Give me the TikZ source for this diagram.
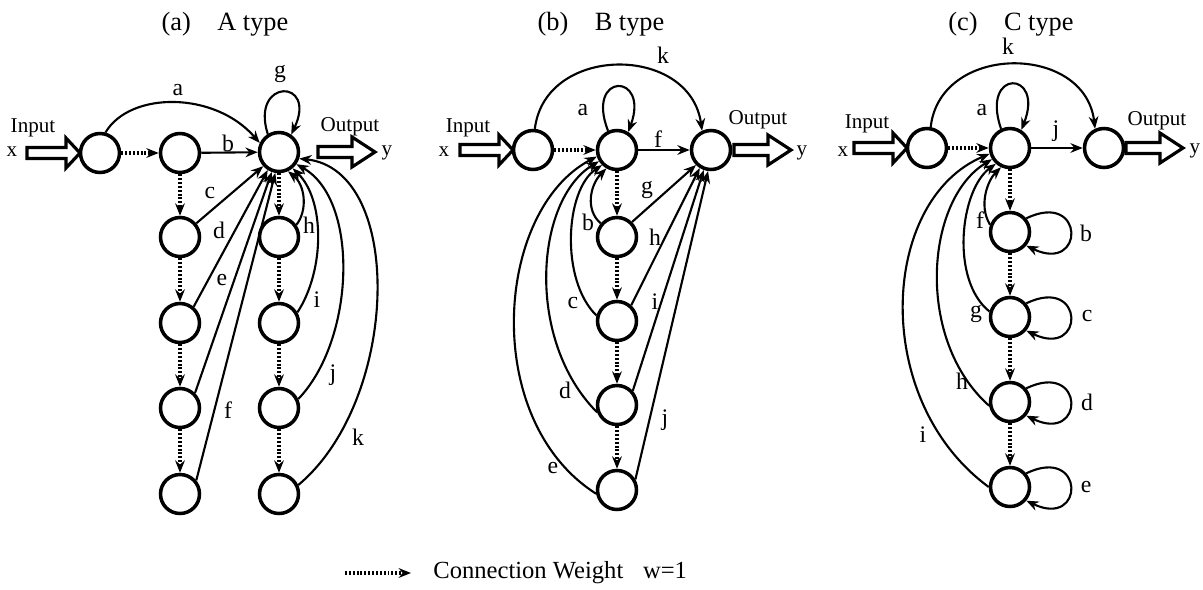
\documentclass[tikz,border=0pt]{standalone}
\usepackage{fontspec}
\setmainfont{Liberation Serif}
\usetikzlibrary{arrows.meta}
\begin{document}
\begin{tikzpicture}[x=0.02cm,y=-0.02cm,
  nd/.style={circle,draw,line width=2pt,minimum size=0.78cm,inner sep=0pt},
  edge/.style={line width=1.2pt,-{Stealth[length=7pt,width=5.5pt]}},
  dotarr/.style={line width=2pt,dash pattern=on 1.1pt off 1.1pt,-{Stealth[length=7pt,width=5.5pt]}},
  lbl/.style={inner sep=0pt,font=\fontsize{13.5}{16}\selectfont},
  io/.style={inner sep=0pt,font=\fontsize{12}{14}\selectfont},
  ttl/.style={inner sep=0pt,font=\fontsize{15}{18}\selectfont},
  fat/.style={line width=1.8pt,line join=miter},
  inarr/.pic={\draw[fat] (0,-5.5) -- (39,-5.5) -- (39,-15) -- (53,0) -- (39,15) -- (39,5.5) -- (0,5.5) -- cycle;},
  outarr/.pic={\draw[fat] (0,-5.5) -- (34,-5.5) -- (34,-15) -- (57,0) -- (34,15) -- (34,5.5) -- (0,5.5) -- cycle;}]
\useasboundingbox (0,0) rectangle (1203,589);

% ================= (a) A type =================
\node[ttl] (ta) at (225,24) {(a)\quad A type};
\node[nd] (ai) at (100,153) {};
\node[nd] (a2) at (180,153) {};
\node[nd] (ah) at (279,152) {};
\foreach \i/\y in {1/237,2/323,3/408,4/494}{
  \node[nd] (al\i) at (180,\y) {};
  \node[nd] (ar\i) at (279,\y) {};
}
\pic at (27,153) {inarr};
\pic at (318,152) {outarr};
\node[io] (ainp) at (33,128) {Input};
\node[io] (ax) at (12,152) {x};
\node[io] (aout) at (350,127) {Output};
\node[io] (ay) at (387,153) {y};

\draw[dotarr] (ai) -- (a2);
\draw[dotarr] (a2) -- (al1);
\draw[dotarr] (al1) -- (al2);
\draw[dotarr] (al2) -- (al3);
\draw[dotarr] (al3) -- (al4);
\draw[dotarr] (ah) -- (ar1);
\draw[dotarr] (ar1) -- (ar2);
\draw[dotarr] (ar2) -- (ar3);
\draw[dotarr] (ar3) -- (ar4);

\draw[edge] (ai.75) .. controls (130,91) and (215,91) .. (ah.155);
\draw[edge] (ah.122) .. controls (250,78) and (318,78) .. (ah.55);
\draw[edge] (a2) -- (ah);
\draw[edge] (al1.40) -- (ah.222);
\draw[edge] (al2.50) -- (ah.238);
\draw[edge] (al3.45) -- (ah.250);
\draw[edge] (al4.40) -- (ah.260);
\draw[edge] (ar1.35) .. controls (308,210) and (305,185) .. (ah.-65);
\draw[edge] (ar2.30) .. controls (325,270) and (325,200) .. (ah.-50);
\draw[edge] (ar3.25) .. controls (355,340) and (360,200) .. (ah.-35);
\draw[edge] (ar4.25) .. controls (400,400) and (405,170) .. (ah.-18);

\node[lbl] (la) at (178,90) {a};
\node[lbl] (lg) at (280,74) {g};
\node[lbl] (lb) at (228,143) {b};
\node[lbl] (lc) at (210,193) {c};
\node[lbl] (ld) at (219,230) {d};
\node[lbl] (le) at (222,280) {e};
\node[lbl] (lf) at (228,410) {f};
\node[lbl] (lh) at (309,225) {h};
\node[lbl] (li) at (317,300) {i};
\node[lbl] (lj) at (333,375) {j};
\node[lbl] (lk) at (358,437) {k};

% ================= (b) B type =================
\node[ttl] (tb) at (601,24) {(b)\quad B type};
\node[nd] (bi) at (533,150) {};
\node[nd] (bh) at (617,150) {};
\node[nd] (bo) at (711,150) {};
\node[nd] (b1) at (617,237) {};
\node[nd] (b2) at (617,321) {};
\node[nd] (b3) at (617,405) {};
\node[nd] (b4) at (617,490) {};
\pic at (460,150) {inarr};
\pic at (734,150) {outarr};
\node[io] (binp) at (468,128) {Input};
\node[io] (bx) at (444,152) {x};
\node[io] (bout) at (758,120) {Output};
\node[io] (by) at (802,153) {y};

\draw[dotarr] (bi) -- (bh);
\draw[dotarr] (bh) -- (b1);
\draw[dotarr] (b1) -- (b2);
\draw[dotarr] (b2) -- (b3);
\draw[dotarr] (b3) -- (b4);

\draw[edge] (bi.85) .. controls (545,44) and (690,44) .. (bo.115);
\draw[edge] (bh.115) .. controls (585,72) and (650,72) .. (bh.58);
\draw[edge] (bh) -- (bo);
\draw[edge] (b1.45) -- (bo.225);
\draw[edge] (b2.48) -- (bo.238);
\draw[edge] (b3.42) -- (bo.250);
\draw[edge] (b4.30) -- (bo.262);
\draw[edge] (b1.140) .. controls (585,210) and (590,185) .. (bh.240);
\draw[edge] (b2.165) .. controls (560,280) and (565,190) .. (bh.225);
\draw[edge] (b3.200) .. controls (525,340) and (535,200) .. (bh.212);
\draw[edge] (b4.190) .. controls (480,420) and (495,210) .. (bh.198);

\node[lbl] (mk) at (663,55) {k};
\node[lbl] (ma) at (583,110) {a};
\node[lbl] (mf) at (658,139) {f};
\node[lbl] (mg) at (647,190) {g};
\node[lbl] (mh) at (655,237) {h};
\node[lbl] (mi) at (655,302) {i};
\node[lbl] (mj) at (665,420) {j};
\node[lbl] (mb) at (588,222) {b};
\node[lbl] (mc) at (573,303) {c};
\node[lbl] (md) at (565,390) {d};
\node[lbl] (me) at (553,468) {e};

% ================= (c) C type =================
\node[ttl] (tc) at (1011,24) {(c)\quad C type};
\node[nd] (ci) at (927,148) {};
\node[nd] (ch) at (1010,148) {};
\node[nd] (co) at (1104,148) {};
\node[nd] (c1) at (1010,232) {};
\node[nd] (c2) at (1010,317) {};
\node[nd] (c3) at (1010,402) {};
\node[nd] (c4) at (1010,487) {};
\pic at (854,148) {inarr};
\pic at (1126,148) {outarr};
\node[io] (cinp) at (867,124) {Input};
\node[io] (cx) at (843,152) {x};
\node[io] (cout) at (1157,121) {Output};
\node[io] (cy) at (1195,151) {y};

\draw[dotarr] (ci) -- (ch);
\draw[dotarr] (ch) -- (c1);
\draw[dotarr] (c1) -- (c2);
\draw[dotarr] (c2) -- (c3);
\draw[dotarr] (c3) -- (c4);

\draw[edge] (ci.80) .. controls (940,43) and (1085,43) .. (co.115);
\draw[edge] (ch.115) .. controls (980,68) and (1045,70) .. (ch.58);
\draw[edge] (ch) -- (co);
\foreach \n in {c1,c2,c3,c4}
  \draw[edge] (\n.40) .. controls +(59,-28.5) and +(59,28.5) .. (\n.-40);
\draw[edge] (c1.160) .. controls (978,205) and (988,180) .. (ch.245);
\draw[edge] (c2.165) .. controls (950,280) and (960,190) .. (ch.228);
\draw[edge] (c3.190) .. controls (915,340) and (925,200) .. (ch.212);
\draw[edge] (c4.180) .. controls (870,400) and (880,200) .. (ch.196);

\node[lbl] (nk) at (1008,46) {k};
\node[lbl] (na) at (982,110) {a};
\node[lbl] (nj) at (1056,131) {j};
\node[lbl] (nf) at (980,220) {f};
\node[lbl] (ng) at (976,314) {g};
\node[lbl] (nh) at (962,381) {h};
\node[lbl] (ni) at (923,435) {i};
\node[lbl] (nb) at (1086,233) {b};
\node[lbl] (nc) at (1087,316) {c};
\node[lbl] (nd) at (1087,402) {d};
\node[lbl] (ne) at (1086,487) {e};

% ================= legend =================
\coordinate (l1) at (345,573);
\coordinate (l2) at (411,573);
\draw[dotarr] (l1) -- (l2);
\node[inner sep=0pt,anchor=west,font=\fontsize{14}{16}\selectfont] (lt) at (433,573) {Connection Weight\hspace{0.8em}w=1};
\end{tikzpicture}
\end{document}
